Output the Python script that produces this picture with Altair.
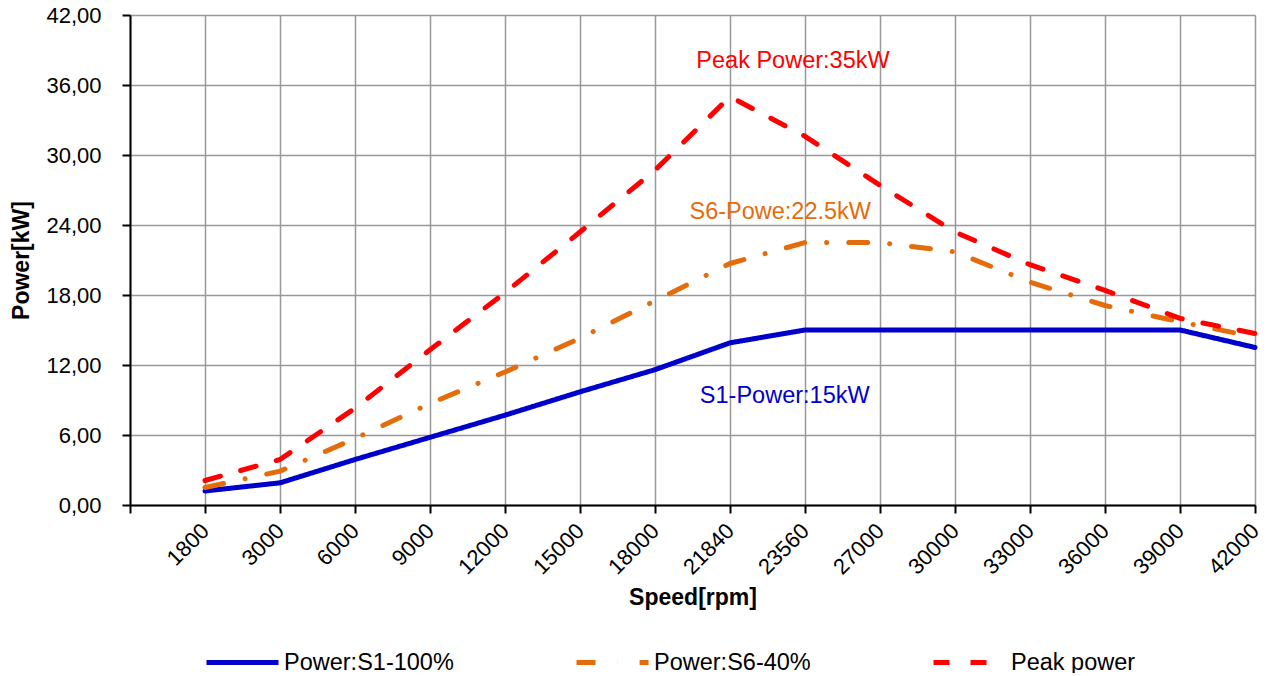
import altair as alt
import pandas as pd

speeds = ["1800", "3000", "6000", "9000", "12000", "15000", "18000", "21840",
          "23560", "27000", "30000", "33000", "36000", "39000", "42000"]
s1_power = [1.2, 1.9, 3.9, 5.8, 7.7, 9.7, 11.6, 13.9, 15.0, 15.0, 15.0, 15.0, 15.0, 15.0, 13.5]
s6_power = [1.5, 2.9, 5.7, 8.7, 11.4, 14.3, 17.5, 20.7, 22.5, 22.5, 21.7, 19.1, 17.1, 15.7, 14.4]
peak_power = [2.1, 3.9, 8.3, 13.3, 18.2, 23.4, 28.7, 35.0, 31.6, 27.4, 23.4, 20.6, 18.4, 16.0, 14.7]
series_names = ["Power:S1-100%", "Power:S6-40%", "Peak power"]
y_ticks = [0, 6, 12, 18, 24, 30, 36, 42]

note_text = ["Peak Power:35kW", "S6-Powe:22.5kW", "S1-Power:15kW"]
note_x = [8.84, 8.67, 8.73]
note_y = [38.1, 25.1, 9.35]

colors = ["#0000CC", "#E46C0A", "#FF0000"]
dashes = [[1, 0], [19, 22, 0.1, 22], [16, 21]]
FONT = "Liberation Sans"

rows = []
for name, vals in zip(series_names, [s1_power, s6_power, peak_power]):
    for i, (sp, v) in enumerate(zip(speeds, vals)):
        rows.append({"idx": i + 1, "speed": sp, "power": v, "series": name})
df = pd.DataFrame(rows)

label_expr = "[''," + ",".join("'" + s + "'" for s in speeds) + "][datum.value]"

x_enc = alt.X("idx:Q",
              scale=alt.Scale(domain=[0, len(speeds)], nice=False, zero=False),
              axis=alt.Axis(title="Speed[rpm]", values=list(range(0, len(speeds) + 1)),
                            labelExpr=label_expr, labelAngle=-45,
                            labelAlign="right", labelBaseline="middle",
                            labelPadding=14, titleY=92, titleBaseline="middle"))
y_enc = alt.Y("power:Q",
              scale=alt.Scale(domain=[0, 42], nice=False),
              axis=alt.Axis(title="Power[kW]", values=y_ticks,
                            labelExpr="replace(format(datum.value, '.2f'), '.', ',')",
                            labelPadding=21, titlePadding=12))


def make_legend():
    return alt.Legend(title=None, orient="none", direction="horizontal",
                      legendX=74, legendY=609, symbolType="stroke",
                      symbolSize=5184, symbolStrokeWidth=5,
                      columnPadding=112, labelFontSize=23.5,
                      labelFont=FONT, labelColor="black",
                      labelOffset=3, labelLimit=400, padding=0)


lines = alt.Chart(df).mark_line(strokeWidth=5, strokeCap="round", strokeJoin="round").encode(
    x=x_enc,
    y=y_enc,
    color=alt.Color("series:N",
                    scale=alt.Scale(domain=series_names, range=colors),
                    sort=series_names, legend=make_legend()),
    strokeDash=alt.StrokeDash("series:N",
                              scale=alt.Scale(domain=series_names, range=dashes),
                              sort=series_names, legend=make_legend()),
)

notes_df = pd.DataFrame({"text": note_text, "x": note_x, "y": note_y, "k": [0, 1, 2]})
note_layers = []
for k, c in enumerate(colors[::-1]):
    note_layers.append(
        alt.Chart(notes_df[notes_df.k == k]).mark_text(
            color=c, font=FONT, fontSize=23.5, align="center", baseline="middle"
        ).encode(x=alt.X("x:Q"), y=alt.Y("y:Q"), text="text:N")
    )

chart = alt.layer(lines, *note_layers).properties(
    width=1125, height=490,
    autosize=alt.AutoSizeParams(type="none"),
    padding={"left": 122, "top": 7, "right": 6, "bottom": 168},
).configure_view(stroke=None).configure_axis(
    labelFont=FONT, labelFontSize=22, labelColor="black",
    titleFont=FONT, titleFontSize=23, titleFontWeight="bold", titleColor="black",
    domainColor="black", domainWidth=2, tickColor="black", tickWidth=2, tickSize=8,
    gridColor="#999999", gridWidth=1.5,
)

chart.save("out.html", embed_options={"renderer": "svg", "actions": False})
